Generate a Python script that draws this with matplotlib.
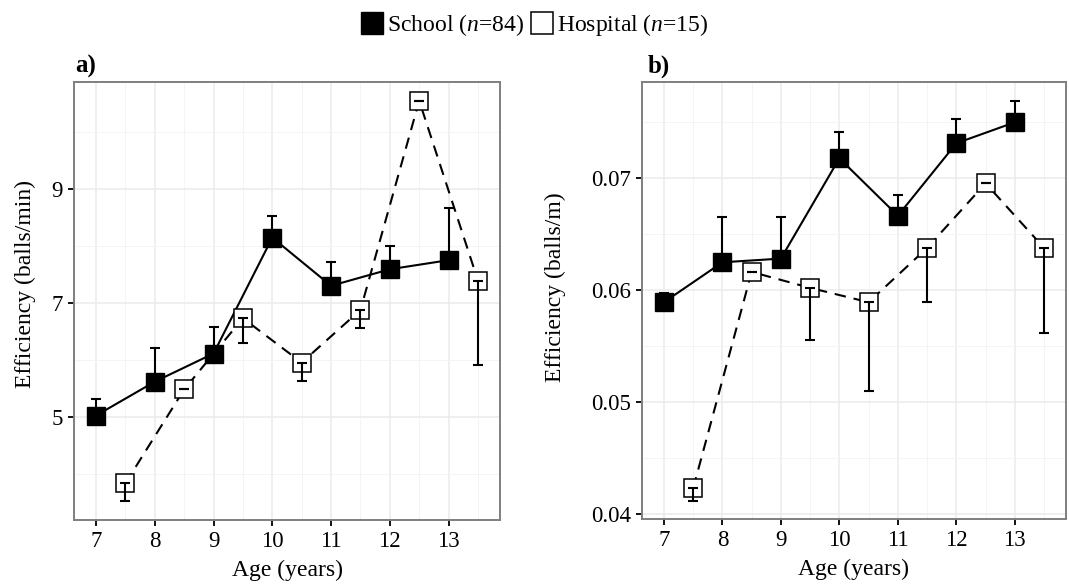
import matplotlib
matplotlib.use("Agg")
import matplotlib.pyplot as plt
from matplotlib.lines import Line2D
from matplotlib.ticker import FixedLocator
import numpy as np

plt.rcParams['font.family'] = ['Liberation Serif', 'DejaVu Serif']
plt.rcParams['mathtext.fontset'] = 'custom'
plt.rcParams['mathtext.rm'] = 'Liberation Serif'
plt.rcParams['mathtext.it'] = 'Liberation Serif:italic'

# ---- data ----
ages = [7, 8, 9, 10, 11, 12, 13]
school_min = [5.02, 5.615, 6.11, 8.146, 7.30, 7.59, 7.75]
school_min_upper = [5.31, 6.21, 6.58, 8.53, 7.71, 7.99, 8.66]
hosp_min = [3.83, 5.48, 6.73, 5.95, 6.875, 10.55, 7.39]
hosp_min_lower = [3.52, 5.48, 6.29, 5.63, 6.55, 10.55, 5.91]

school_m = [0.0589, 0.06246, 0.06279, 0.07173, 0.06661, 0.07307, 0.07494]
school_m_upper = [0.0597, 0.06647, 0.0665, 0.07407, 0.06846, 0.07527, 0.07681]
hosp_m = [0.04232, 0.0616, 0.06018, 0.0589, 0.06374, 0.0695, 0.06374]
hosp_m_lower = [0.04122, 0.0616, 0.05557, 0.05095, 0.0589, 0.0695, 0.05617]

labels_legend = ["School ($n$=84)", "Hospital ($n$=15)"]
ylabels = ["Efficiency (balls/min)", "Efficiency (balls/m)"]
xlabel = "Age (years)"
panel_tags = ["a)", "b)"]
yticks_a = [5, 7, 9]
yticks_b = [0.04, 0.05, 0.06, 0.07]
ytick_labels_b = ["0.04", "0.05", "0.06", "0.07"]

W, H = 1069, 587
fig = plt.figure(figsize=(W / 100, H / 100), dpi=100)

def fx(px):
    return px / W

def fy(py):
    return 1 - py / H

ax_a = fig.add_axes([fx(74), fy(520), fx(500) - fx(74), fy(82) - fy(520)])
ax_b = fig.add_axes([fx(642), fy(519), fx(1066) - fx(642), fy(82) - fy(519)])

FS_TICK = 16.5
FS_LAB = 17
dodge = 0.5

def draw(ax, s_mean, s_up, h_mean, h_low, ylim, yticks, minor_y, ytl, ylabel,
         ylab_xy, xlab_y):
    x_s = np.array(ages, dtype=float)
    x_h = x_s + dodge
    s_mean = np.array(s_mean); s_up = np.array(s_up)
    h_mean = np.array(h_mean); h_low = np.array(h_low)
    ax.set_axisbelow(True)
    ax.set_xlim(6.625, 13.875)
    ax.set_ylim(*ylim)
    ax.set_xticks(ages)
    ax.xaxis.set_minor_locator(FixedLocator([a + 0.5 for a in ages]))
    ax.set_yticks(yticks)
    if ytl is not None:
        ax.set_yticklabels(ytl)
    ax.yaxis.set_minor_locator(FixedLocator(minor_y))
    ax.grid(True, which='major', color='#ebebeb', lw=1.1)
    ax.grid(True, which='minor', color='#f4f4f4', lw=0.7)
    ax.tick_params(which='minor', length=0)
    ax.tick_params(which='major', length=4.6, width=1.3, color='black',
                   labelsize=FS_TICK, pad=3.5, labelcolor='black')
    for sp in ax.spines.values():
        sp.set_color('#7f7f7f')
        sp.set_linewidth(1.4)
    # school
    ax.plot(x_s, s_mean, color='black', lw=1.5, zorder=3)
    ax.plot(x_s, s_mean, ls='none', marker='s', ms=13, mfc='black', mec='black', zorder=4)
    ax.errorbar(x_s, s_mean, yerr=[np.zeros_like(s_mean), s_up - s_mean], fmt='none',
                ecolor='black', elinewidth=1.5, capsize=3.5, capthick=1.5, zorder=5)
    # hospital
    ax.plot(x_h, h_mean, color='black', lw=1.5, ls=(0, (5.5, 3.8)), zorder=3)
    ax.plot(x_h, h_mean, ls='none', marker='s', ms=12.5, mfc='white', mec='black',
            mew=1.1, zorder=6)
    ax.errorbar(x_h, h_mean, yerr=[h_mean - h_low, np.zeros_like(h_mean)], fmt='none',
                ecolor='black', elinewidth=1.5, capsize=3.5, capthick=1.5, zorder=7)
    ax.set_xlabel(xlabel, fontsize=FS_LAB)
    ax.set_ylabel(ylabel, fontsize=FS_LAB)
    ax.yaxis.set_label_coords(*ylab_xy)
    ax.xaxis.set_label_coords(0.5, xlab_y)

draw(ax_a, school_min, school_min_upper, hosp_min, hosp_min_lower,
     (3.185, 10.88), yticks_a, [4, 6, 8, 10], None, ylabels[0],
     (-0.089, 0.538), -0.09)
draw(ax_b, school_m, school_m_upper, hosp_m, hosp_m_lower,
     (0.03958, 0.07853), yticks_b, [0.045, 0.055, 0.065, 0.075], ytick_labels_b, ylabels[1],
     (-0.179, 0.53), -0.092)

fig.text(fx(75), fy(73), panel_tags[0], fontsize=18, fontweight='bold', va='baseline', ha='left')
fig.text(fx(648), fy(73), panel_tags[1], fontsize=18, fontweight='bold', va='baseline', ha='left')

handles = [
    Line2D([], [], ls='none', marker='s', ms=16.5, mfc='black', mec='black'),
    Line2D([], [], ls='none', marker='s', ms=15.5, mfc='white', mec='black', mew=1.1),
]
fig.legend(handles, labels_legend, loc='upper center', bbox_to_anchor=(0.5, 1.0), ncol=2,
           frameon=False, fontsize=FS_LAB, handletextpad=0.15, columnspacing=0.25,
           handlelength=1.0, borderaxespad=0.1)

fig.savefig("out.png", dpi=100)
